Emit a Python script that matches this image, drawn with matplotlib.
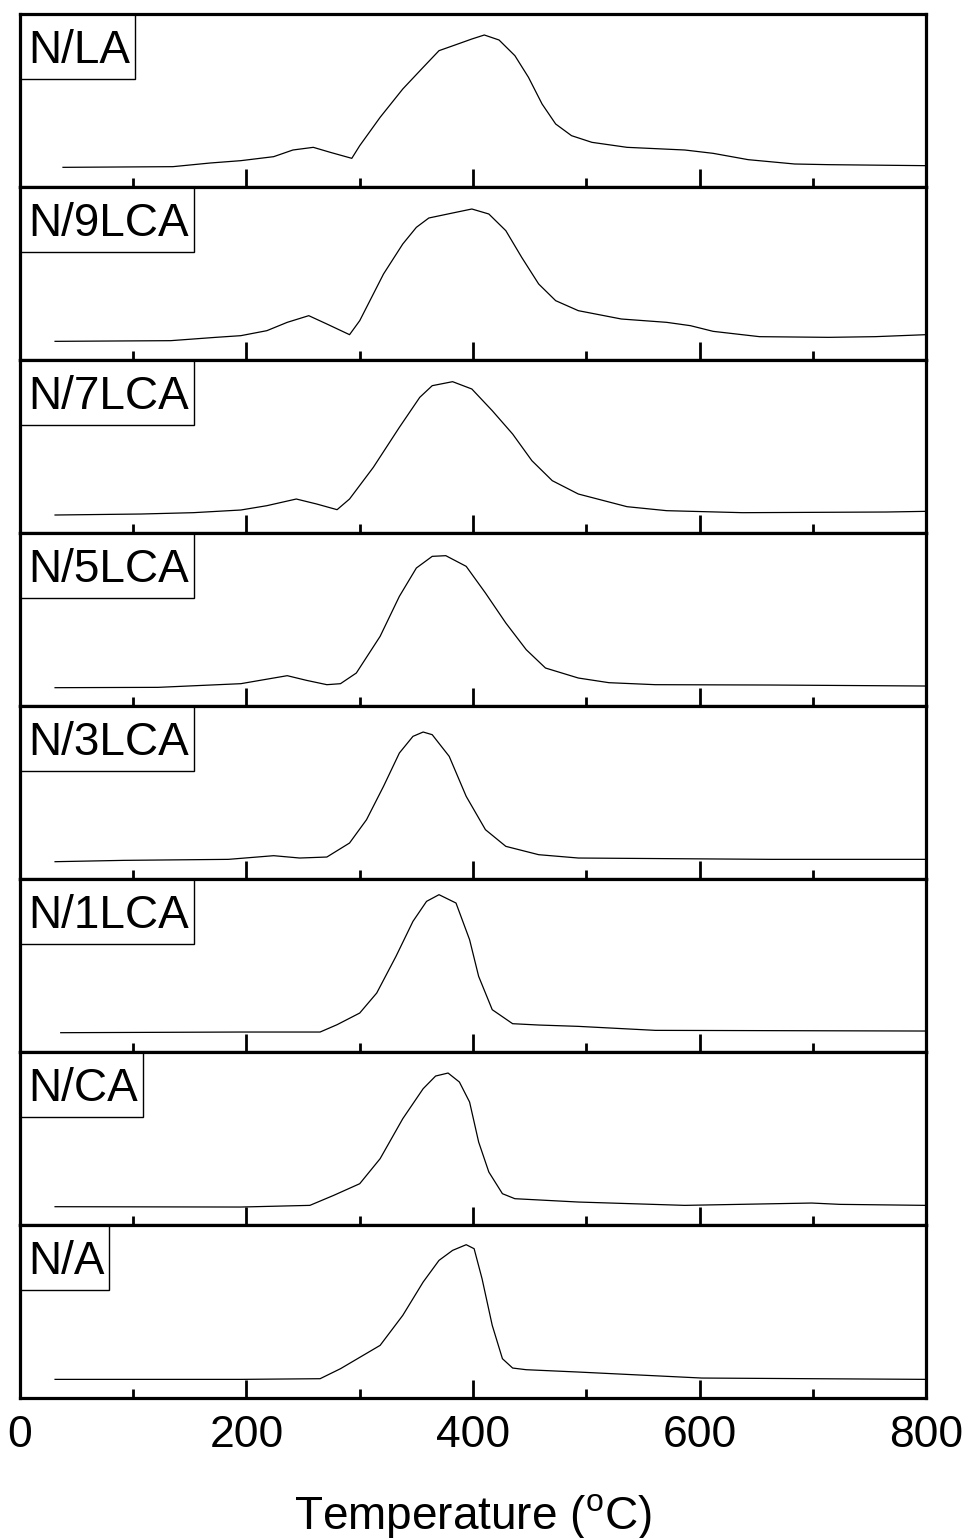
import matplotlib
matplotlib.use("Agg")
import matplotlib.pyplot as plt
from matplotlib.patches import Rectangle
from matplotlib.ticker import MultipleLocator

# ==========================================
# Data (intensiteit in willekeurige eenheden, afgelezen)
# ==========================================

labels = ["N/LA", "N/9LCA", "N/7LCA", "N/5LCA", "N/3LCA", "N/1LCA", "N/CA", "N/A"]

t_la = [38, 135, 168, 195, 224, 241, 259, 274, 293, 300, 318, 338, 356, 370, 385, 399, 410,
        423, 437, 449, 461, 473, 487, 505, 536, 587, 612, 643, 684, 714, 800]
y_la = [59, 61, 72, 79, 91, 111, 119, 104, 86, 124, 209, 294, 359, 409, 427, 444, 456,
        441, 394, 329, 249, 189, 154, 134, 119, 111, 101, 82, 69, 67, 64]

t_9lca = [31, 133, 173, 195, 218, 236, 255, 271, 291, 300, 321, 338, 350, 361, 382, 399,
          414, 429, 443, 458, 473, 493, 531, 571, 592, 612, 653, 714, 755, 800]
y_9lca = [56, 58, 68, 73, 88, 113, 133, 108, 76, 118, 258, 348, 398, 426, 441, 453,
          438, 388, 308, 228, 178, 148, 123, 113, 103, 86, 70, 68, 70, 76]

t_7lca = [31, 107, 153, 195, 218, 244, 262, 280, 291, 312, 335, 353, 364, 382, 399, 417,
          435, 452, 470, 493, 536, 571, 638, 765, 800]
y_7lca = [54, 57, 61, 69, 82, 102, 87, 70, 102, 197, 317, 407, 442, 454, 432, 367,
          297, 217, 157, 117, 79, 67, 61, 63, 65]

t_5lca = [31, 122, 195, 212, 236, 253, 271, 283, 297, 318, 335, 350, 364, 376, 394, 411,
          429, 447, 464, 493, 520, 561, 663, 800]
y_5lca = [55, 56, 67, 77, 91, 77, 64, 67, 99, 209, 329, 414, 449, 451, 419, 339,
          249, 169, 114, 84, 70, 64, 63, 60]

t_3lca = [31, 92, 184, 224, 247, 271, 291, 306, 321, 335, 347, 356, 364, 379, 394, 411,
          429, 458, 493, 663, 800]
y_3lca = [52, 56, 59, 70, 63, 66, 108, 178, 278, 378, 428, 441, 433, 368, 248, 148,
          98, 73, 63, 59, 59]

t_1lca = [36, 195, 265, 280, 300, 315, 332, 347, 359, 370, 385, 397, 405, 417, 435, 458,
          493, 561, 800]
y_1lca = [58, 60, 60, 82, 117, 177, 287, 392, 452, 472, 447, 337, 227, 127, 85, 81,
          77, 65, 63]

t_ca = [31, 195, 256, 277, 300, 318, 338, 356, 367, 378, 388, 397, 405, 414, 426, 437,
        493, 587, 699, 724, 800]
y_ca = [55, 54, 59, 89, 124, 199, 319, 409, 447, 456, 429, 369, 249, 159, 94, 79,
        69, 59, 66, 62, 59]

t_a = [31, 195, 265, 283, 318, 338, 356, 370, 382, 394, 401, 408, 417, 426, 435, 447,
       493, 602, 800]
y_a = [56, 56, 58, 88, 158, 248, 348, 413, 443, 460, 448, 358, 218, 118, 90, 85,
       78, 60, 56]

temps = [t_la, t_9lca, t_7lca, t_5lca, t_3lca, t_1lca, t_ca, t_a]
signals = [y_la, y_9lca, y_7lca, y_5lca, y_3lca, y_1lca, y_ca, y_a]

# ==========================================
# Figuur
# ==========================================

plt.rcParams['font.family'] = ['Liberation Sans', 'DejaVu Sans']

fig, axes = plt.subplots(8, 1, figsize=(9.64, 15.38), dpi=100, sharex=True)
fig.subplots_adjust(left=0.0207, right=0.9606, top=0.9909, bottom=0.0910, hspace=0)
renderer = fig.canvas.get_renderer()

for ax, lab, t, y in zip(axes, labels, temps, signals):
    ax.plot(t, y, color="black", lw=0.9)  # curve
    ax.set_xlim(0, 800)
    ax.set_ylim(0, 519)
    ax.set_yticks([])
    for sp in ax.spines.values():
        sp.set_linewidth(2.3)
        sp.set_zorder(5)
    ax.xaxis.set_major_locator(MultipleLocator(200))
    ax.xaxis.set_minor_locator(MultipleLocator(100))
    ax.tick_params(axis="x", which="major", direction="in", length=13, width=2, pad=12)
    ax.tick_params(axis="x", which="minor", direction="in", length=6.5, width=2)
    ax.tick_params(axis="x", labelbottom=False)

    # label in een kader linksboven
    txt = ax.annotate(lab, xy=(0, 1), xycoords="axes fraction", xytext=(8, -49),
                      textcoords="offset pixels", ha="left", va="baseline",
                      fontsize=33, zorder=4)
    bb = txt.get_window_extent(renderer)
    axbb = ax.get_window_extent(renderer)
    w = (bb.width + 13) / axbb.width
    h = 65 / axbb.height
    ax.add_patch(Rectangle((0, 1 - h), w, h, transform=ax.transAxes, facecolor="white",
                           edgecolor="black", lw=1.0, zorder=3, clip_on=False))

bottom = axes[-1]
bottom.tick_params(axis="x", labelbottom=True, labelsize=32)
bottom.set_xlabel(r"Temperature ($\mathregular{^o}$C)", fontsize=33, labelpad=26)

plt.savefig("out.png", dpi=100)
plt.close()
